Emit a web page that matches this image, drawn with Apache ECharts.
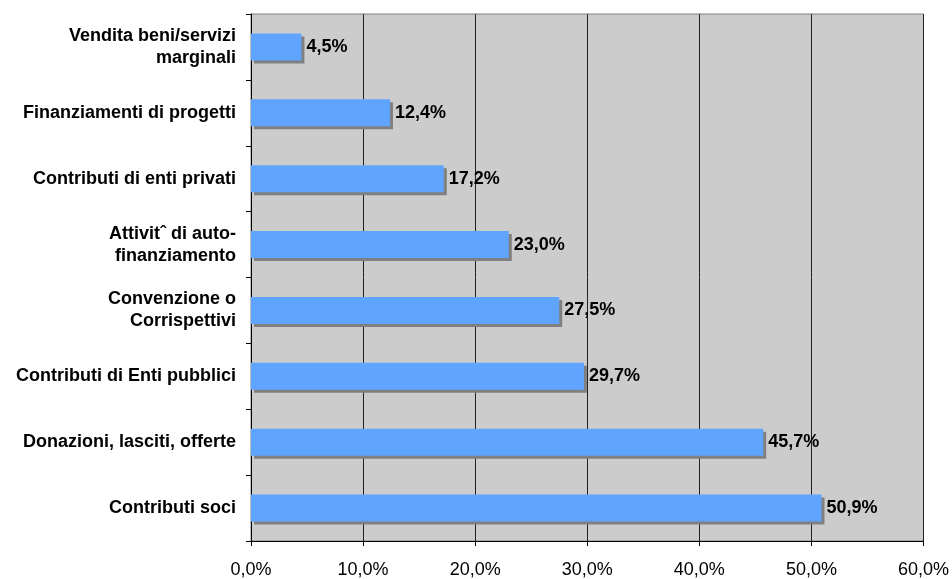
<!DOCTYPE html>
<html>
<head>
<meta charset="utf-8">
<script src="https://cdn.jsdelivr.net/npm/echarts@6/dist/echarts.min.js"></script>
<style>
  html, body { margin: 0; padding: 0; background: #ffffff; }
  #chart { width: 952px; height: 579px; }
</style>
</head>
<body>
<div id="chart"></div>
<script>
// Funding sources, top to bottom
const categories = [
  'Vendita beni/servizi\nmarginali',
  'Finanziamenti di progetti',
  'Contributi di enti privati',
  'Attivitˆ di auto-\nfinanziamento',
  'Convenzione o\nCorrispettivi',
  'Contributi di Enti pubblici',
  'Donazioni, lasciti, offerte',
  'Contributi soci'
];
// Share of organisations (%)
const shares = [4.5, 12.4, 17.2, 23.0, 27.5, 29.7, 45.7, 50.9];

const pct = v => v.toFixed(1).replace('.', ',') + '%';

const chart = echarts.init(document.getElementById('chart'), null, { renderer: 'canvas' });
chart.setOption({
  animation: false,
  backgroundColor: '#ffffff',
  grid: {
    left: 251, right: 22, top: 14, bottom: 37,
    show: true,
    backgroundColor: '#cccccc',
    borderColor: '#808080',
    borderWidth: 1
  },
  xAxis: {
    type: 'value',
    min: 0, max: 60, interval: 10,
    axisLine: { show: true, lineStyle: { color: '#000', width: 1 } },
    axisTick: { show: true, length: 5, lineStyle: { color: '#000' } },
    splitLine: { show: true, lineStyle: { color: '#222', width: 1 } },
    axisLabel: {
      formatter: v => pct(v),
      color: '#000', fontFamily: 'Liberation Sans, Arial', fontSize: 18, margin: 20
    }
  },
  yAxis: {
    type: 'category',
    inverse: true,
    data: categories,
    axisLine: { show: true, lineStyle: { color: '#000', width: 1 } },
    axisTick: { show: true, length: 5, lineStyle: { color: '#000' } },
    axisLabel: {
      color: '#000', fontFamily: 'Liberation Sans, Arial', fontWeight: 'bold',
      fontSize: 18, lineHeight: 22, margin: 15, align: 'right'
    }
  },
  series: [{
    type: 'bar',
    data: shares,
    barWidth: 27,
    itemStyle: {
      color: '#5fa5ff',
      shadowColor: '#808080',
      shadowOffsetX: 3,
      shadowOffsetY: 3,
      shadowBlur: 0
    },
    label: {
      show: true,
      position: 'right',
      distance: 5,
      formatter: p => pct(p.value),
      color: '#000', fontFamily: 'Liberation Sans, Arial', fontWeight: 'bold', fontSize: 18
    }
  }]
});
</script>
</body>
</html>
